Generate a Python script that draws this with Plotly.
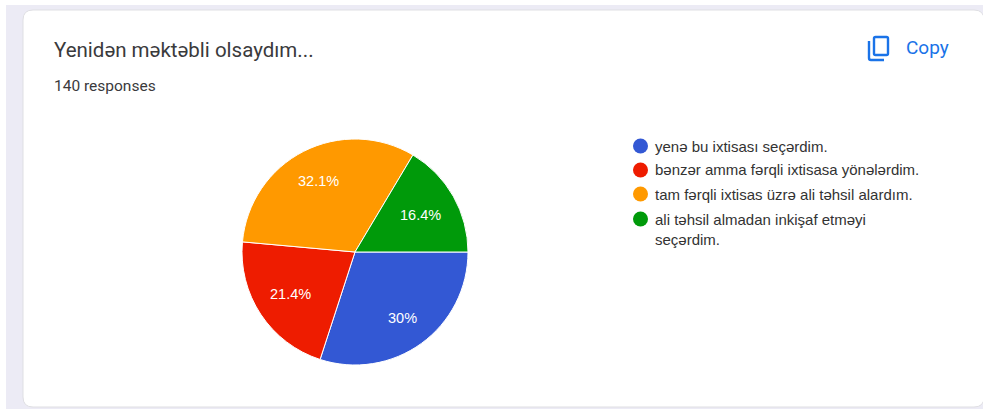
import math
import plotly.graph_objects as go

# Survey answers and the number of responses for each
answers = [
    "yenə bu ixtisası seçərdim.",
    "bənzər amma fərqli ixtisasa yönələrdim.",
    "tam fərqli ixtisas üzrə ali təhsil alardım.",
    "ali təhsil almadan inkişaf etməyi<br>seçərdim.",
]
counts = [42, 30, 45, 23]
colors = ["#3358d4", "#ee1c00", "#ff9900", "#009a0a"]

title_text = "Yenidən məktəbli olsaydım..."
subtitle_text = "140 responses"
copy_text = "Copy"

W, H = 983, 409
BLUE = "#1a73e8"
PIE_CX, PIE_CY, PIE_R = 355, 252, 113
# How far along each wedge's bisector its percentage sits
label_radii = [0.72, 0.68, 0.71, 0.665]


def px(x):
    return x / W


def py(y):
    return 1 - y / H


def rounded_path(x0, y0, x1, y1, r):
    return (
        f"M{px(x0 + r)},{py(y0)} L{px(x1 - r)},{py(y0)} "
        f"Q{px(x1)},{py(y0)} {px(x1)},{py(y0 + r)} "
        f"L{px(x1)},{py(y1 - r)} Q{px(x1)},{py(y1)} {px(x1 - r)},{py(y1)} "
        f"L{px(x0 + r)},{py(y1)} Q{px(x0)},{py(y1)} {px(x0)},{py(y1 - r)} "
        f"L{px(x0)},{py(y0 + r)} Q{px(x0)},{py(y0)} {px(x0 + r)},{py(y0)} Z"
    )


shapes = [
    # page backdrop and the response card
    dict(type="rect", xref="paper", yref="paper", layer="below",
         x0=px(6), x1=1, y0=0, y1=py(5), fillcolor="#ecebf5", line=dict(width=0)),
    dict(type="path", xref="paper", yref="paper", layer="below",
         path=rounded_path(23, 10, 984, 407, 10),
         fillcolor="#ffffff", line=dict(color="#dfdfe3", width=1)),
    # copy icon: front sheet and the corner of the sheet behind it
    dict(type="path", xref="paper", yref="paper", layer="above",
         path=rounded_path(874, 37, 888, 55, 1.5),
         line=dict(color=BLUE, width=2.4)),
    dict(type="path", xref="paper", yref="paper", layer="above",
         path=f"M{px(869)},{py(41)} L{px(869)},{py(58)} "
              f"Q{px(869)},{py(60)} {px(871)},{py(60)} L{px(884)},{py(60)}",
         line=dict(color=BLUE, width=2.4)),
]

annotations = [
    dict(text=title_text, x=px(53), y=py(50), xanchor="left", yanchor="middle",
         font=dict(family="Roboto", size=20.5, color="#3a3a3c")),
    dict(text=subtitle_text, x=px(53), y=py(86), xanchor="left", yanchor="middle",
         font=dict(family="Roboto", size=15.5, color="#3a3a3c")),
    dict(text=copy_text, x=px(905), y=py(48), xanchor="left", yanchor="middle",
         font=dict(family="Roboto", size=19, color=BLUE)),
]

# Hand-laid legend: round swatches with wrapped labels
legend_rows = [146, 170, 194, 219]
for answer, color, row in zip(answers, colors, legend_rows):
    shapes.append(dict(
        type="circle", xref="paper", yref="paper",
        x0=px(633), x1=px(648), y0=py(row - 7.5), y1=py(row + 7.5),
        fillcolor=color, line=dict(width=0),
    ))
    annotations.append(dict(
        text=answer, x=px(653.5), y=py(row - 9.5), xanchor="left", yanchor="top",
        align="left", font=dict(family="Liberation Sans", size=15, color="#333333"),
    ))

# Percentage labels sit on each wedge's bisector, further out than Plotly's default
total = sum(counts)
angle = 0.0
for value, ratio in zip(counts, label_radii):
    middle = math.radians((angle + value / 2) / total * 360)
    angle += value
    annotations.append(dict(
        text=f"{value / total * 100:.3g}%",
        x=px(PIE_CX + ratio * PIE_R * math.cos(middle)),
        y=py(PIE_CY + ratio * PIE_R * math.sin(middle)),
        xanchor="center", yanchor="middle",
        font=dict(family="Liberation Sans", size=14.5, color="#ffffff"),
    ))
for a in annotations:
    a.update(xref="paper", yref="paper", showarrow=False, borderpad=0)

pie = go.Pie(
    labels=[a.replace("<br>", " ") for a in answers],
    values=counts,
    sort=False,
    direction="clockwise",
    rotation=90,
    marker=dict(colors=colors, line=dict(color="#ffffff", width=1)),
    textinfo="none",
    domain=dict(x=[px(PIE_CX - PIE_R), px(PIE_CX + PIE_R)],
                y=[py(PIE_CY + PIE_R), py(PIE_CY - PIE_R)]),
    showlegend=False,
    hoverinfo="label+percent",
)

fig = go.Figure(pie)
fig.update_layout(
    width=W, height=H,
    margin=dict(l=0, r=0, t=0, b=0),
    paper_bgcolor="#ffffff",
    shapes=shapes,
    annotations=annotations,
)
fig.write_html("out.html", config=dict(displayModeBar=False))
